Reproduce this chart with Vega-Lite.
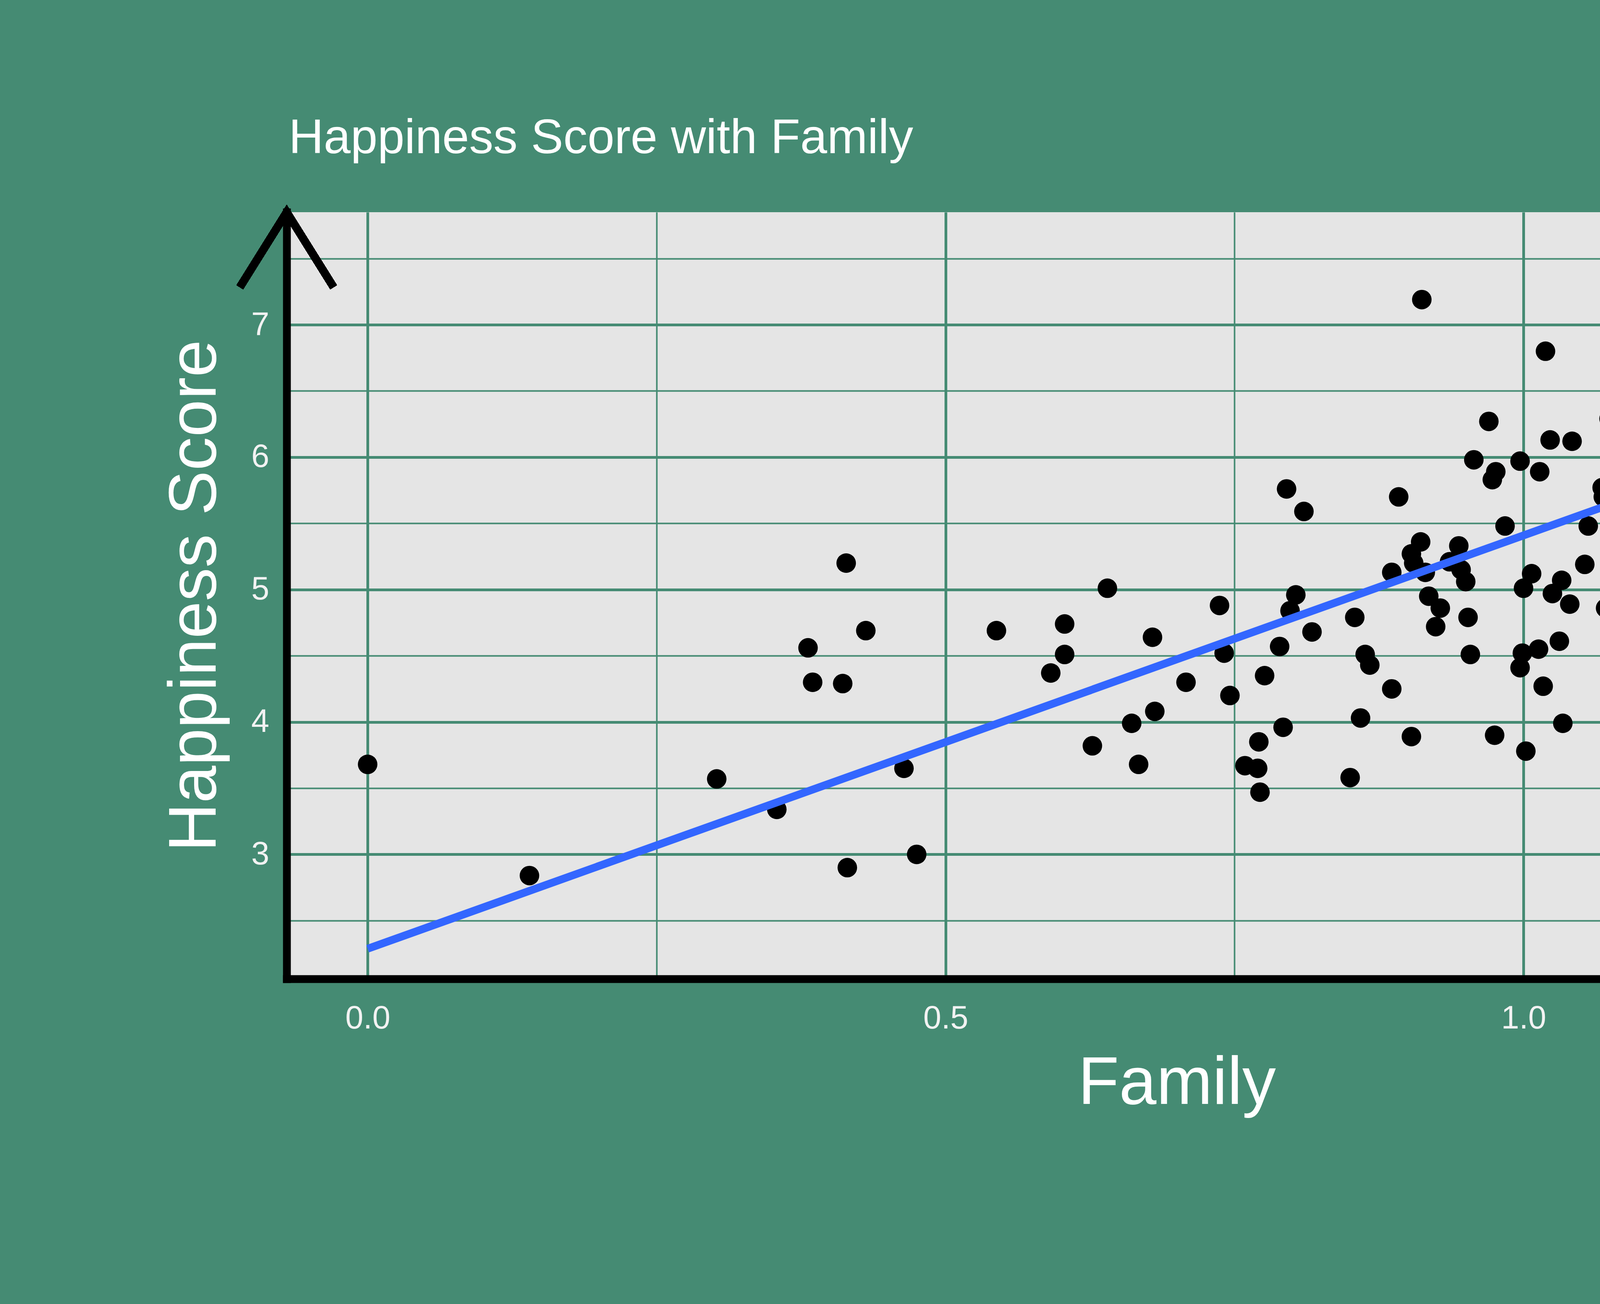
{"$schema":"https://vega.github.io/schema/vega-lite/v6.json","width":5400,"height":3337,"autosize":{"type":"fit","contains":"padding"},"padding":{"left":413,"top":293,"right":69,"bottom":479},"background":"#458B73","config":{"view":{"fill":"#E5E5E5","stroke":null},"font":"Liberation Sans"},"title":{"text":"Happiness Score with Family","anchor":"start","frame":"group","fontSize":124,"font":"Liberation Sans","fontWeight":"normal","color":"white","offset":85,"dx":5},"data":{"values":[{"f":0,"h":3.68},{"f":0.14,"h":2.84},{"f":0.302,"h":3.57},{"f":0.354,"h":3.34},{"f":0.381,"h":4.56},{"f":0.385,"h":4.3},{"f":0.411,"h":4.29},{"f":0.414,"h":5.2},{"f":0.415,"h":2.9},{"f":0.431,"h":4.69},{"f":0.464,"h":3.65},{"f":0.475,"h":3.0},{"f":0.544,"h":4.69},{"f":0.591,"h":4.37},{"f":0.603,"h":4.74},{"f":0.603,"h":4.51},{"f":0.627,"h":3.82},{"f":0.64,"h":5.01},{"f":0.661,"h":3.99},{"f":0.667,"h":3.68},{"f":0.679,"h":4.64},{"f":0.681,"h":4.08},{"f":0.708,"h":4.3},{"f":0.737,"h":4.88},{"f":0.741,"h":4.52},{"f":0.746,"h":4.2},{"f":0.759,"h":3.67},{"f":0.77,"h":3.65},{"f":0.771,"h":3.85},{"f":0.772,"h":3.47},{"f":0.776,"h":4.35},{"f":0.789,"h":4.57},{"f":0.792,"h":3.96},{"f":0.795,"h":5.76},{"f":0.798,"h":4.84},{"f":0.803,"h":4.96},{"f":0.81,"h":5.59},{"f":0.817,"h":4.68},{"f":0.85,"h":3.58},{"f":0.854,"h":4.79},{"f":0.859,"h":4.03},{"f":0.863,"h":4.51},{"f":0.867,"h":4.43},{"f":0.886,"h":4.25},{"f":0.886,"h":5.13},{"f":0.892,"h":5.7},{"f":0.903,"h":3.89},{"f":0.903,"h":5.27},{"f":0.905,"h":5.2},{"f":0.911,"h":5.36},{"f":0.912,"h":7.19},{"f":0.915,"h":5.13},{"f":0.918,"h":4.95},{"f":0.924,"h":4.72},{"f":0.928,"h":4.86},{"f":0.936,"h":5.21},{"f":0.944,"h":5.33},{"f":0.946,"h":5.15},{"f":0.95,"h":5.06},{"f":0.952,"h":4.79},{"f":0.954,"h":4.51},{"f":0.957,"h":5.98},{"f":0.97,"h":6.27},{"f":0.973,"h":5.83},{"f":0.976,"h":5.89},{"f":0.975,"h":3.9},{"f":0.984,"h":5.48},{"f":0.997,"h":5.97},{"f":0.997,"h":4.41},{"f":1.0,"h":5.01},{"f":0.999,"h":4.52},{"f":1.002,"h":3.78},{"f":1.007,"h":5.12},{"f":1.013,"h":4.55},{"f":1.014,"h":5.89},{"f":1.017,"h":4.27},{"f":1.019,"h":6.8},{"f":1.023,"h":6.13},{"f":1.025,"h":4.97},{"f":1.031,"h":4.61},{"f":1.033,"h":5.07},{"f":1.034,"h":3.99},{"f":1.04,"h":4.89},{"f":1.042,"h":6.12},{"f":1.053,"h":5.19},{"f":1.056,"h":5.48},{"f":1.068,"h":5.77},{"f":1.069,"h":5.7},{"f":1.071,"h":4.86},{"f":1.074,"h":6.29},{"f":1.076,"h":5.6},{"f":1.078,"h":6.61},{"f":1.08,"h":6.85},{"f":1.082,"h":6.41},{"f":1.085,"h":5.4},{"f":1.095,"h":5.1},{"f":1.102,"h":5.25},{"f":1.103,"h":4.33},{"f":1.104,"h":4.22},{"f":1.117,"h":5.75},{"f":1.121,"h":5.86},{"f":1.123,"h":6.67},{"f":1.124,"h":6.9},{"f":1.132,"h":3.93},{"f":1.138,"h":5.1},{"f":1.14,"h":5.83},{"f":1.149,"h":5.71},{"f":1.149,"h":5.29},{"f":1.164,"h":6.29},{"f":1.17,"h":4.89},{"f":1.181,"h":6.17},{"f":1.183,"h":4.65},{"f":1.196,"h":5.95},{"f":1.197,"h":6.78},{"f":1.201,"h":4.79},{"f":1.202,"h":4.68},{"f":1.204,"h":6.51},{"f":1.207,"h":6.49},{"f":1.214,"h":5.97},{"f":1.217,"h":6.94},{"f":1.222,"h":7.28},{"f":1.225,"h":5.55},{"f":1.227,"h":5.43},{"f":1.231,"h":6.98},{"f":1.231,"h":5.82},{"f":1.234,"h":5.71},{"f":1.236,"h":7.23},{"f":1.238,"h":6.48},{"f":1.245,"h":7.12},{"f":1.246,"h":6.58},{"f":1.254,"h":6.81},{"f":1.256,"h":5.99},{"f":1.256,"h":5.83},{"f":1.259,"h":6.58},{"f":1.263,"h":6.46},{"f":1.268,"h":5.99},{"f":1.272,"h":5.86},{"f":1.277,"h":5.8},{"f":1.278,"h":7.38},{"f":1.284,"h":6.88},{"f":1.284,"h":6.95},{"f":1.289,"h":7.37},{"f":1.294,"h":7.2},{"f":1.298,"h":6.75},{"f":1.299,"h":4.87},{"f":1.3,"h":6.31},{"f":1.303,"h":5.88},{"f":1.307,"h":7.29},{"f":1.311,"h":6.32},{"f":1.316,"h":7.4},{"f":1.318,"h":7.29},{"f":1.321,"h":7.44},{"f":1.329,"h":7.52},{"f":1.338,"h":6.01},{"f":1.347,"h":7.59},{"f":1.358,"h":7.54},{"f":1.368,"h":6.95},{"f":1.4,"h":7.57}]},"layer":[{"mark":{"type":"point","filled":true,"color":"black","opacity":1,"size":2500},"encoding":{"x":{"field":"f","type":"quantitative","scale":{"domain":[-0.07,1.47],"nice":false,"zero":false},"axis":{"title":"Family","values":[0,0.25,0.5,0.75,1,1.25],"labelExpr":"datum.value==0.25||datum.value==0.75||datum.value==1.25?'':format(datum.value,'.1f')","labelFontSize":83,"labelColor":"#F2F2F2","labelPadding":60,"titleFontSize":172,"titleFontWeight":"normal","titleColor":"white","titlePadding":40,"ticks":false,"domainColor":"black","domainWidth":20,"domainCap":"square","gridColor":"#458B73","gridWidth":{"condition":{"test":"datum.value==0.25||datum.value==0.75||datum.value==1.25","value":4},"value":7},"gridOpacity":1}},"y":{"field":"h","type":"quantitative","scale":{"domain":[2.06,7.85],"nice":false,"zero":false},"axis":{"title":"Happiness Score","values":[2.5,3,3.5,4,4.5,5,5.5,6,6.5,7,7.5],"labelExpr":"datum.value%1!=0?'':format(datum.value,'d')","labelFontSize":83,"labelColor":"#F2F2F2","labelPadding":45,"titleFontSize":172,"titleFontWeight":"normal","titleColor":"white","titlePadding":55,"ticks":false,"domainColor":"black","domainWidth":20,"domainCap":"square","gridColor":"#458B73","gridWidth":{"condition":{"test":"datum.value%1!=0","value":4},"value":7},"gridOpacity":1}}}},{"transform":[{"regression":"h","on":"f"}],"mark":{"type":"line","color":"#3366FF","strokeWidth":20},"encoding":{"x":{"field":"f","type":"quantitative","title":"Family"},"y":{"field":"h","type":"quantitative","title":"Happiness Score"}}},{"mark":{"type":"point","shape":"M-1,1.6L0,0L1,1.6","filled":false,"stroke":"black","strokeWidth":20,"size":57600,"opacity":1,"clip":false},"encoding":{"x":{"datum":-0.07,"type":"quantitative","title":"Family"},"y":{"datum":7.85,"type":"quantitative","title":"Happiness Score"}}},{"mark":{"type":"point","shape":"M-1.6,-1L0,0L-1.6,1","filled":false,"stroke":"black","strokeWidth":20,"size":57600,"opacity":1,"clip":false},"encoding":{"x":{"datum":1.47,"type":"quantitative","title":"Family"},"y":{"datum":2.06,"type":"quantitative","title":"Happiness Score"}}}]}
